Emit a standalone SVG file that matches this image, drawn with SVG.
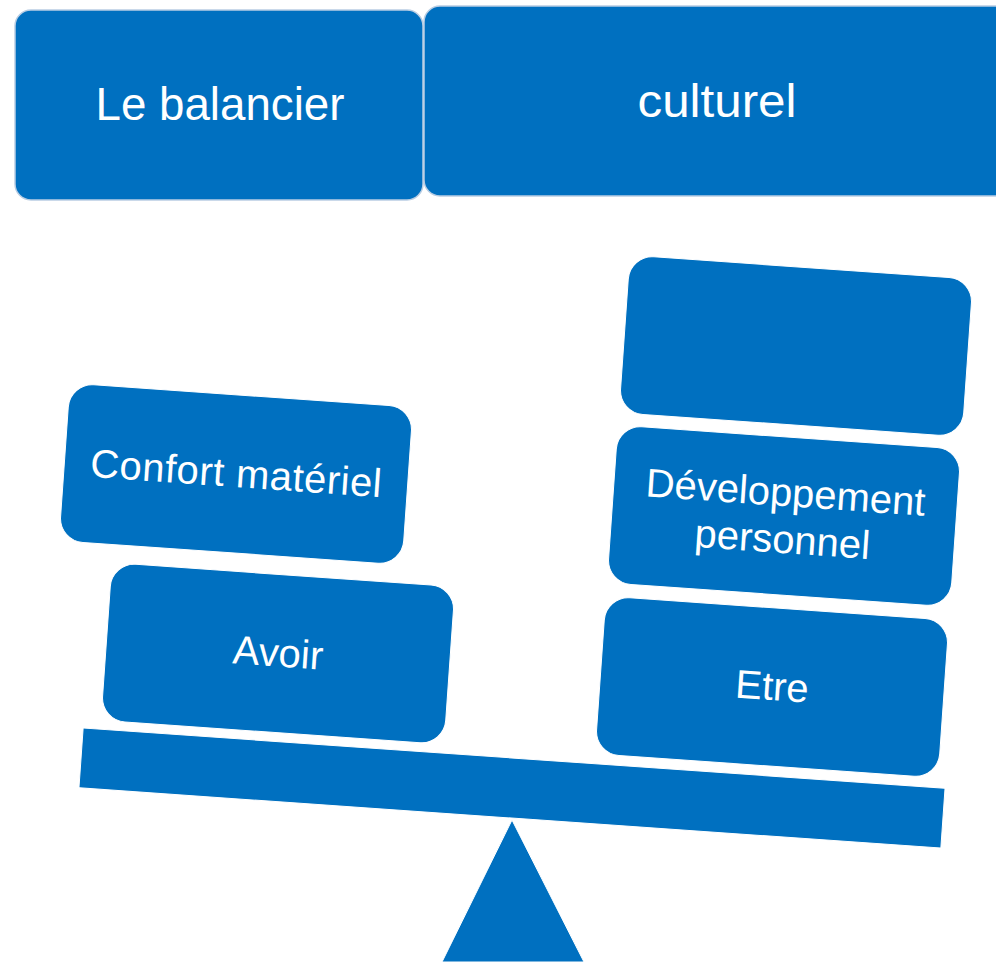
<svg xmlns="http://www.w3.org/2000/svg" width="996" height="962" viewBox="0 0 996 962">
<style>
.box{fill:#0070C0;stroke:#ffffff;stroke-width:1}
.top{fill:#0070C0;stroke:#b9cde3;stroke-width:1.5}
.t{fill:#ffffff;font-family:"Liberation Sans",Arial,sans-serif;text-anchor:middle}
.big{font-size:46px}
.mid{font-size:40px}
</style>
<rect width="996" height="962" fill="#ffffff"/>
<g id="title-left">
<rect class="top" x="15" y="10" width="408" height="190" rx="16"/>
<text class="t big" x="220" y="120" textLength="249" lengthAdjust="spacingAndGlyphs">Le balancier</text>
</g>
<g id="title-right">
<rect class="top" x="424" y="6" width="600" height="190" rx="16"/>
<text class="t big" x="717" y="117" textLength="159" lengthAdjust="spacingAndGlyphs">culturel</text>
</g>
<g id="beam">
<rect class="box" x="80" y="758" width="864" height="60" transform="rotate(4 512 788)"/>
</g>
<g id="fulcrum">
<polygon class="box" points="512,820 584,962 442,962"/>
</g>
<g id="confort">
<g transform="translate(236 474) rotate(4)">
<rect class="box" x="-172" y="-79" width="344" height="158" rx="24"/>
<text class="t mid" x="0" y="13" textLength="292">Confort matériel</text>
</g>
</g>
<g id="avoir">
<g transform="translate(278 653.5) rotate(4)">
<rect class="box" x="-172" y="-79" width="344" height="158" rx="24"/>
<text class="t mid" x="0" y="13">Avoir</text>
</g>
</g>
<g id="empty">
<g transform="translate(796 346) rotate(4)">
<rect class="box" x="-172" y="-79" width="344" height="158" rx="24"/>
</g>
</g>
<g id="developpement">
<g transform="translate(784 516) rotate(4)">
<rect class="box" x="-172" y="-79" width="344" height="158" rx="24"/>
<text class="t mid" x="0" y="-10">Développement</text>
<text class="t mid" x="0" y="37">personnel</text>
</g>
</g>
<g id="etre">
<g transform="translate(772 687) rotate(4)">
<rect class="box" x="-172" y="-79" width="344" height="158" rx="24"/>
<text class="t mid" x="0" y="13">Etre</text>
</g>
</g>
<g id="connectors"></g>
</svg>
